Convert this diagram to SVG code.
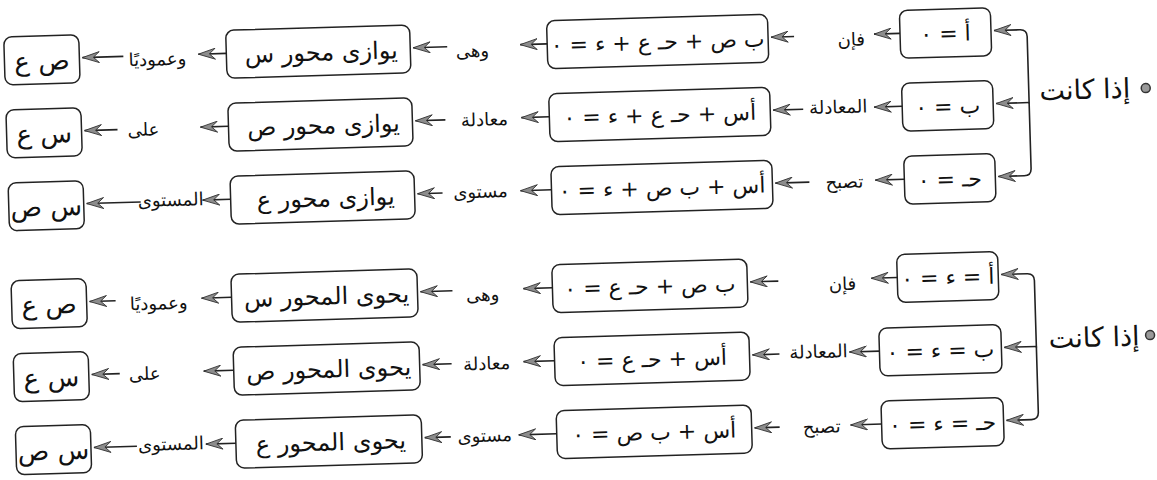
<svg xmlns="http://www.w3.org/2000/svg" width="1157" height="480" viewBox="0 0 1157 480">
<style>
.box{fill:#fff;stroke:#222;stroke-width:1.5}
.bt{font-family:'DejaVu Sans',sans-serif;font-size:22px;fill:#111;text-anchor:middle;direction:rtl}
.bm{font-family:'DejaVu Sans',sans-serif;font-size:24px;fill:#111;text-anchor:middle;direction:rtl}
.bs{font-family:'DejaVu Sans',sans-serif;font-size:26px;fill:#111;text-anchor:middle;direction:rtl}
.lb{font-family:'DejaVu Sans',sans-serif;font-size:18px;fill:#111;text-anchor:middle;direction:rtl}
.hd{font-family:'DejaVu Sans',sans-serif;font-size:27px;fill:#111;text-anchor:middle;direction:rtl}
.cn{fill:none;stroke:#222;stroke-width:1.6;marker-end:url(#ah)}
.bul{fill:#999;stroke:#333;stroke-width:1.5}
</style>
<defs>
<marker id="ah" markerUnits="userSpaceOnUse" viewBox="-18 -6 19 12" refX="0" refY="0" markerWidth="19" markerHeight="12" orient="auto"><path d="M0,0 L-17,-5.5 L-11,0 L-17,5.5 Z" fill="#8c8c8c" stroke="#333" stroke-width="0.9"/></marker>
</defs>
<rect width="1157" height="480" fill="#fff"/>
<g transform="rotate(-1.7 578 240)">
<g id="top-head"><circle class="bul" cx="1150" cy="105" r="4.5"/><text class="hd" x="1089" y="114">إذا كانت</text></g>
<g id="t-a0"><rect class="box" x="906" y="20" width="91" height="48" rx="8"/><text class="bt" x="951.5" y="52">أ = ٠</text></g>
<g id="t-b0"><rect class="box" x="906" y="93" width="91" height="48" rx="8"/><text class="bt" x="951.5" y="125">ب = ٠</text></g>
<g id="t-c0"><rect class="box" x="906" y="166" width="91" height="48" rx="8"/><text class="bt" x="951.5" y="198">حـ = ٠</text></g>
<g id="t-eq1"><rect class="box" x="553" y="20" width="221" height="48" rx="8"/><text class="bt" x="663.5" y="52">ب ص + حـ ع + ء = ٠</text></g>
<g id="t-eq2"><rect class="box" x="553" y="93" width="221" height="48" rx="8"/><text class="bt" x="663.5" y="125">أس + حـ ع + ء = ٠</text></g>
<g id="t-eq3"><rect class="box" x="553" y="166" width="221" height="48" rx="8"/><text class="bt" x="663.5" y="198">أس + ب ص + ء = ٠</text></g>
<g id="t-par1"><rect class="box" x="232" y="20" width="184" height="48" rx="8"/><text class="bm" x="327" y="53">يوازى محور س</text></g>
<g id="t-par2"><rect class="box" x="232" y="93" width="184" height="48" rx="8"/><text class="bm" x="327" y="126">يوازى محور ص</text></g>
<g id="t-par3"><rect class="box" x="232" y="166" width="184" height="48" rx="8"/><text class="bm" x="327" y="199">يوازى محور ع</text></g>
<g id="t-pl1"><rect class="box" x="10" y="20" width="75" height="48" rx="8"/><text class="bs" x="47.5" y="54">ص ع</text></g>
<g id="t-pl2"><rect class="box" x="10" y="93" width="75" height="48" rx="8"/><text class="bs" x="47.5" y="127">س ع</text></g>
<g id="t-pl3"><rect class="box" x="10" y="166" width="75" height="48" rx="8"/><text class="bs" x="47.5" y="200">س ص</text></g>
<g id="low-head"><circle class="bul" cx="1147" cy="352" r="4.5"/><text class="hd" x="1091" y="362">إذا كانت</text></g>
<g id="l-a0"><rect class="box" x="896" y="264" width="101" height="48" rx="8"/><text class="bt" x="946.5" y="296">أ = ء = ٠</text></g>
<g id="l-b0"><rect class="box" x="876" y="337" width="122" height="48" rx="8"/><text class="bt" x="937" y="369">ب = ء = ٠</text></g>
<g id="l-c0"><rect class="box" x="876" y="410" width="122" height="48" rx="8"/><text class="bt" x="937" y="442">حـ = ء = ٠</text></g>
<g id="l-eq1"><rect class="box" x="551" y="264" width="195" height="48" rx="8"/><text class="bt" x="648.5" y="296">ب ص + حـ ع = ٠</text></g>
<g id="l-eq2"><rect class="box" x="551" y="337" width="195" height="48" rx="8"/><text class="bt" x="648.5" y="369">أس + حـ ع = ٠</text></g>
<g id="l-eq3"><rect class="box" x="551" y="410" width="195" height="48" rx="8"/><text class="bt" x="648.5" y="442">أس + ب ص = ٠</text></g>
<g id="l-con1"><rect class="box" x="230" y="264" width="186" height="48" rx="8"/><text class="bm" x="325" y="297">يحوى المحور س</text></g>
<g id="l-con2"><rect class="box" x="230" y="337" width="186" height="48" rx="8"/><text class="bm" x="325" y="370">يحوى المحور ص</text></g>
<g id="l-con3"><rect class="box" x="230" y="410" width="186" height="48" rx="8"/><text class="bm" x="325" y="443">يحوى المحور ع</text></g>
<g id="l-pl1"><rect class="box" x="10" y="264" width="75" height="48" rx="8"/><text class="bs" x="47.5" y="298">ص ع</text></g>
<g id="l-pl2"><rect class="box" x="10" y="337" width="75" height="48" rx="8"/><text class="bs" x="47.5" y="371">س ع</text></g>
<g id="l-pl3"><rect class="box" x="10" y="410" width="75" height="48" rx="8"/><text class="bs" x="47.5" y="444">س ص</text></g>
<g id="connectors">
<path class="cn" d="M1033,117 V50 Q1033,43 1026,43 H1000"/>
<path class="cn" d="M1033,116 H1000"/>
<path class="cn" d="M1033,116 V182 Q1033,189 1026,189 H1000"/>
<path class="cn" d="M906,43 H880"/><path class="cn" d="M800,43 H777"/><path class="cn" d="M553,43 H526"/><path class="cn" d="M453,43 H419"/><path class="cn" d="M232,43 H204"/><path class="cn" d="M129,43 H88"/>
<path class="cn" d="M906,116 H878"/><path class="cn" d="M807,116 H777"/><path class="cn" d="M553,116 H525"/><path class="cn" d="M449,116 H419"/><path class="cn" d="M232,116 H204"/><path class="cn" d="M121,116 H88"/>
<path class="cn" d="M906,189 H877"/><path class="cn" d="M811,189 H777"/><path class="cn" d="M553,189 H522"/><path class="cn" d="M444,189 H419"/><path class="cn" d="M232,189 H204"/><path class="cn" d="M142,189 H88"/>
<path class="cn" d="M1033,361 V294 Q1033,287 1026,287 H1000"/>
<path class="cn" d="M1033,360 H1001"/>
<path class="cn" d="M1033,360 V426 Q1033,433 1026,433 H1001"/>
<path class="cn" d="M896,287 H870"/><path class="cn" d="M777,287 H749"/><path class="cn" d="M551,287 H522"/><path class="cn" d="M451,287 H419"/><path class="cn" d="M230,287 H200"/><path class="cn" d="M114,287 H88"/>
<path class="cn" d="M876,360 H846"/><path class="cn" d="M776,360 H749"/><path class="cn" d="M551,360 H520"/><path class="cn" d="M448,360 H419"/><path class="cn" d="M230,360 H200"/><path class="cn" d="M116,360 H88"/>
<path class="cn" d="M876,433 H845"/><path class="cn" d="M774,433 H749"/><path class="cn" d="M551,433 H513"/><path class="cn" d="M445,433 H419"/><path class="cn" d="M230,433 H200"/><path class="cn" d="M131,433 H88"/>
<g id="edge-labels">
<text class="lb" x="857" y="54">فإن</text><text class="lb" x="478" y="54">وهى</text><text class="lb" x="163" y="53">وعموديًا</text>
<text class="lb" x="842" y="121">المعادلة</text><text class="lb" x="488" y="123">معادلة</text><text class="lb" x="147" y="123">على</text>
<text class="lb" x="846" y="196">تصبح</text><text class="lb" x="482" y="195">مستوى</text><text class="lb" x="172" y="194">المستوى</text>
<text class="lb" x="841" y="298">فإن</text><text class="lb" x="481" y="298">وهى</text><text class="lb" x="157" y="297">وعموديًا</text>
<text class="lb" x="815" y="365">المعادلة</text><text class="lb" x="483" y="367">معادلة</text><text class="lb" x="141" y="367">على</text>
<text class="lb" x="816" y="440">تصبح</text><text class="lb" x="479" y="439">مستوى</text><text class="lb" x="165" y="438">المستوى</text>
</g>
</g>
</g>
</svg>
